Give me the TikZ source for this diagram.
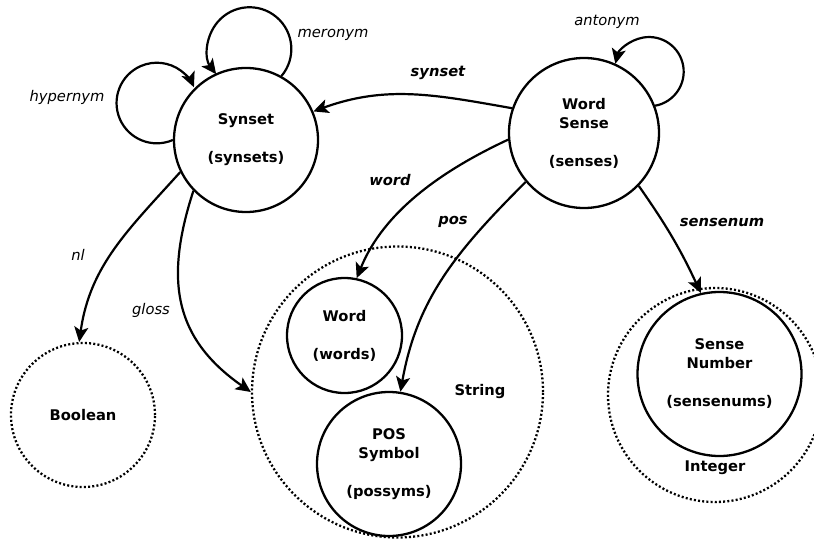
\documentclass[tikz,border=0pt]{standalone}
\usepackage{fontspec}
\setmainfont{DejaVu Sans}
\usetikzlibrary{arrows.meta}
\begin{document}
\begin{tikzpicture}[x=1pt,y=1pt,
  every node/.style={font=\fontsize{14.7}{19}\selectfont},
  st/.style={circle, draw, line width=2.3pt, align=center, inner sep=0pt, font=\fontsize{14.7}{19}\selectfont\bfseries},
  dt/.style={circle, draw, line width=2.3pt, dash pattern=on 2pt off 2.2pt, inner sep=0pt, font=\fontsize{14.7}{19}\selectfont\bfseries},
  edge/.style={line width=2.2pt, -{Stealth[length=15pt,width=14pt,inset=3.5pt]}},
  il/.style={font=\fontsize{14.7}{19}\selectfont\itshape},
  bil/.style={font=\fontsize{14.7}{19}\selectfont\bfseries\itshape},
  tl/.style={font=\fontsize{14.7}{19}\selectfont\bfseries}]
\useasboundingbox (0,0) rectangle (814,542);
% type domains
\node[dt, minimum size=291pt] (string) at (397.5,150) {};
\node[dt, minimum size=214pt] (integer) at (715,147) {};
\node[dt, minimum size=144pt] (bool) at (83,127) {Boolean};
\node[tl] (stringlbl) at (480,151) {String};
\node[tl] (integerlbl) at (715,74) {Integer};
% entity nodes
\node[st, minimum size=144pt] (syn) at (246,402) {Synset\\[19pt](synsets)};
\node[st, minimum size=150pt] (ws) at (584,409) {Word\\Sense\\[19pt](senses)};
\node[st, minimum size=115pt] (word) at (344.5,206.5) {Word\\[19pt](words)};
\node[st, minimum size=144pt] (pos) at (389,78) {POS\\Symbol\\[19pt](possyms)};
\node[st, minimum size=164pt] (sn) at (719.5,168) {Sense\\Number\\[19pt](sensenums)};
% edges
\draw[edge] (ws.161) to[out=170,in=20] (syn.23);
\draw[edge] (ws.185) to[out=205,in=68,looseness=0.9] (word.78);
\draw[edge] (ws.220) to[out=225,in=80] (pos.81);
\draw[edge] (ws.316) to[out=-55,in=115] (sn.103);
\draw[edge] (syn.206) to[out=228,in=82] (bool.93);
\draw[edge] (syn.224) to[out=252,in=145,looseness=1.15] (string.180);
% self loops
\draw[edge] (syn.180) arc[start angle=-66.6, end angle=-337, radius=40.3];
\draw[edge] (syn.61) arc[start angle=-40.2, end angle=217, radius=41.8];
\draw[edge] (ws.21) arc[start angle=-80, end angle=167, radius=34.6];
% labels
\node[bil] (lsynset) at (438,469) {synset};
\node[bil] (lword) at (390,362) {word};
\node[bil] (lpos) at (453,320) {pos};
\node[bil] (lsensenum) at (722,320) {sensenum};
\node[il] (lnl) at (78,287) {nl};
\node[il] (lgloss) at (151,232) {gloss};
\node[il] (lmeronym) at (333,507) {meronym};
\node[il] (lhypernym) at (67,445) {hypernym};
\node[il] (lantonym) at (607,520) {antonym};
\end{tikzpicture}
\end{document}
